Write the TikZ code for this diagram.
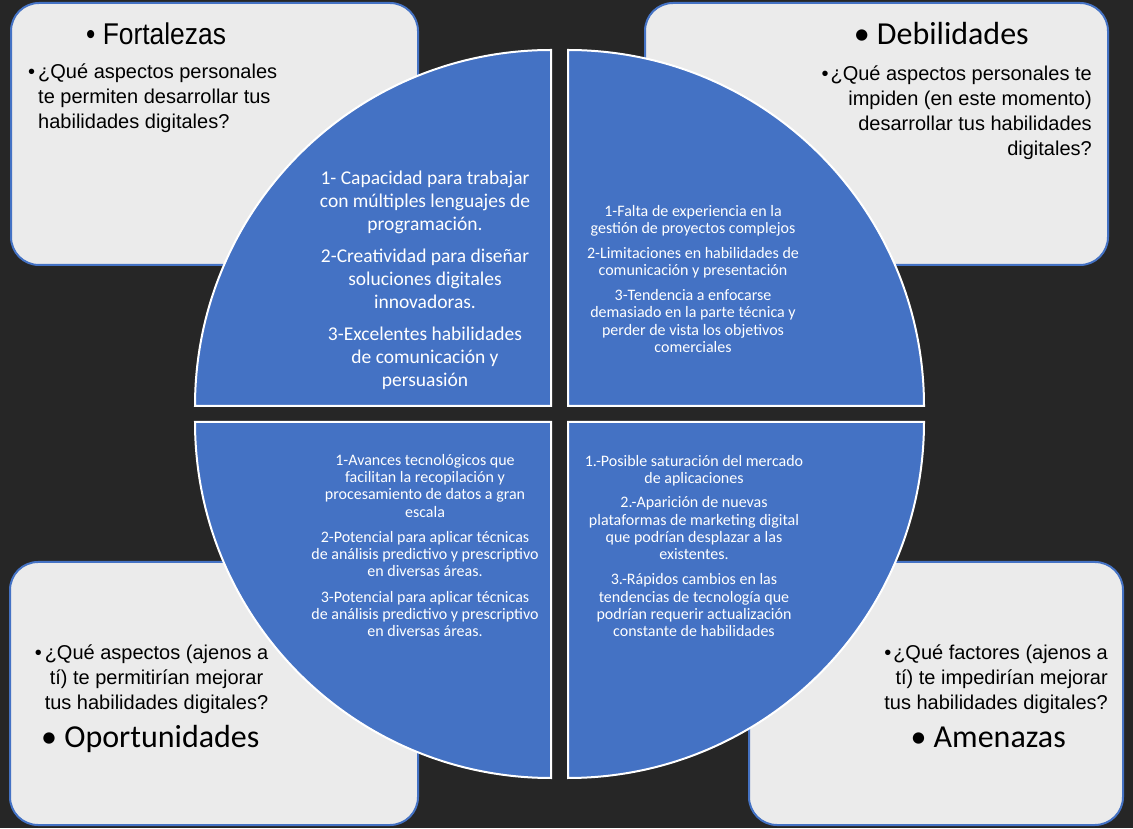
\documentclass[tikz,border=0pt]{standalone}
\usepackage{fontspec}
\setmainfont{Liberation Sans}
\newfontfamily\calibri{Carlito}
\newfontfamily\arialtall[FakeStretch=0.88]{Liberation Sans}
\definecolor{swotblue}{HTML}{4472C4}
\definecolor{swotgray}{HTML}{EBEBEB}
\definecolor{swotbg}{HTML}{262626}

\begin{document}
\begin{tikzpicture}[x=1pt,y=1pt,
    box/.style={fill=swotgray, draw=swotblue, line width=2pt, rounded corners=28pt},
    quad/.style={fill=swotblue, draw=white, line width=2pt},
    heading/.style={inner sep=0pt, font=\calibri\fontsize{32}{38}\selectfont},
    question/.style={inner sep=0pt, font=\fontsize{20}{25}\selectfont},
    bigtext/.style={inner sep=0pt, text=white, align=center, font=\calibri\fontsize{19.5}{23}\selectfont},
    smalltext/.style={inner sep=0pt, text=white, align=center, font=\calibri\fontsize{16}{17.3}\selectfont}]
    \def\R{356}

    % Background
    \fill[swotbg] (0,0) rectangle (1133,828);
    \useasboundingbox (0,0) rectangle (1133,828);

    % Corner boxes
    \draw[box] (11,563) rectangle (418,825);
    \draw[box] (645,563) rectangle (1108,825);
    \draw[box] (10,3) rectangle (418,266);
    \draw[box] (749,3) rectangle (1123,266);

    % Quarter circles
    \coordinate (TL) at (551,422);
    \coordinate (TR) at (568,422);
    \coordinate (BL) at (551,406);
    \coordinate (BR) at (568,406);
    \draw[quad] (TL) -- ++(-\R,0) arc[start angle=180, end angle=90, radius=\R] -- cycle;
    \draw[quad] (TR) -- ++(0,\R) arc[start angle=90, end angle=0, radius=\R] -- cycle;
    \draw[quad] (BL) -- ++(-\R,0) arc[start angle=180, end angle=270, radius=\R] -- cycle;
    \draw[quad] (BR) -- ++(\R,0) arc[start angle=0, end angle=-90, radius=\R] -- cycle;

    % Headings
    \node[heading, font=\arialtall\fontsize{30}{36}\selectfont, anchor=base west] (fortalezas) at (86,783) {• Fortalezas};
    \node[heading, anchor=base east] (debilidades) at (1029,783) {• Debilidades};
    \node[heading, anchor=base west] (oportunidades) at (41,81) {• Oportunidades};
    \node[heading, anchor=base east] (amenazas) at (1066,81) {• Amenazas};

    % Questions
    \node[question, align=left, anchor=north west] (fortalezasq) at (38,764)
        {\llap{•\hspace{3pt}}¿Qué aspectos personales\\te permiten desarrollar tus\\habilidades digitales?};
    \node[question, align=right, anchor=north east] (debilidadesq) at (1092,762)
        {•\hspace{2pt}¿Qué aspectos personales te\\impiden (en este momento)\\desarrollar tus habilidades\\digitales?};
    \node[question, align=center, anchor=north] (oportunidadesq) at (156.5,183)
        {\llap{•\hspace{3pt}}¿Qué aspectos (ajenos a\\tí) te permitirían mejorar\\tus habilidades digitales?};
    \node[question, align=right, anchor=north east] (amenazasq) at (1108,183)
        {•\hspace{2pt}¿Qué factores (ajenos a\\tí) te impedirían mejorar\\tus habilidades digitales?};

    % Quarter texts
    \node[bigtext] (fortalezasitems) at (425,548)
        {1- Capacidad para trabajar\\con múltiples lenguajes de\\programación.\\[9pt]2-Creatividad para diseñar\\soluciones digitales\\innovadoras.\\[9pt]3-Excelentes habilidades\\de comunicación y\\persuasión};
    \node[smalltext] (debilidadesitems) at (693,549)
        {1-Falta de experiencia en la\\gestión de proyectos complejos\\[7.5pt]2-Limitaciones en habilidades de\\comunicación y presentación\\[7.5pt]3-Tendencia a enfocarse\\demasiado en la parte técnica y\\perder de vista los objetivos\\comerciales};
    \node[smalltext] (oportunidadesitems) at (425,282.5)
        {1-Avances tecnológicos que\\facilitan la recopilación y\\procesamiento de datos a gran\\escala\\[8pt]2-Potencial para aplicar técnicas\\de análisis predictivo y prescriptivo\\en diversas áreas.\\[8pt]3-Potencial para aplicar técnicas\\de análisis predictivo y prescriptivo\\en diversas áreas.};
    \node[smalltext] (amenazasitems) at (694,282)
        {1.-Posible saturación del mercado\\de aplicaciones\\[7pt]2.-Aparición de nuevas\\plataformas de marketing digital\\que podrían desplazar a las\\existentes.\\[8pt]3.-Rápidos cambios en las\\tendencias de tecnología que\\podrían requerir actualización\\constante de habilidades};
\end{tikzpicture}
\end{document}
